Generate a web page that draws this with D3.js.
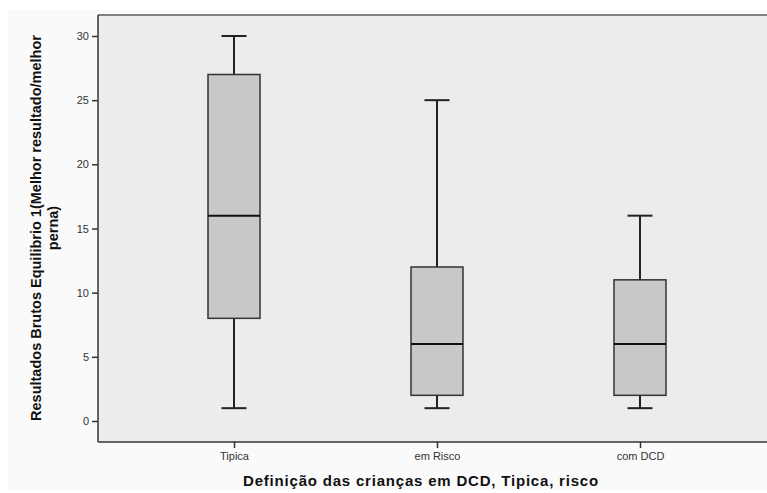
<!DOCTYPE html>
<html>
<head>
<meta charset="utf-8">
<script src="https://cdn.jsdelivr.net/npm/d3@7"></script>
<style>
  body { margin: 0; background: #fff; }
  svg { display: block; font-family: Arial, "Liberation Sans", sans-serif; }
</style>
</head>
<body>
<svg id="chart" width="767" height="493"></svg>
<script>
// data
const categories = ['Tipica', 'em Risco', 'com DCD'];
const mins    = [1, 1, 1];
const q1s     = [8, 2, 2];
const medians = [16, 6, 6];
const q3s     = [27, 12, 11];
const maxs    = [30, 25, 16];
const yTicks  = [0, 5, 10, 15, 20, 25, 30];

const data = categories.map((c, i) => ({
  cat: c, min: mins[i], q1: q1s[i], med: medians[i], q3: q3s[i], max: maxs[i]
}));

const svg = d3.select('#chart');
const plot = { left: 98, top: 15, right: 776, bottom: 442 };

// outer frame
svg.append('rect')
  .attr('x', 8).attr('y', 10)
  .attr('width', 767).attr('height', 480)
  .attr('fill', '#fafafa');

svg.append('rect')
  .attr('x', plot.left).attr('y', plot.top)
  .attr('width', plot.right - plot.left).attr('height', plot.bottom - plot.top)
  .attr('fill', '#ececec');

const x = d3.scalePoint()
  .domain(categories)
  .range([plot.left, plot.right])
  .padding(0.67);

const y = d3.scaleLinear()
  .domain([0, 30])
  .range([421, 36]);

// borders
svg.append('line')
  .attr('x1', plot.left).attr('x2', plot.right)
  .attr('y1', plot.top).attr('y2', plot.top)
  .attr('stroke', '#808080').attr('stroke-width', 2);

// y axis
const yAxis = svg.append('g')
  .attr('transform', `translate(${plot.left},0)`)
  .call(d3.axisLeft(y).tickValues(yTicks).tickSize(6).tickPadding(3));
yAxis.select('.domain').remove();
yAxis.append('line')
  .attr('x1', 0).attr('x2', 0)
  .attr('y1', plot.top).attr('y2', plot.bottom)
  .attr('stroke', '#333').attr('stroke-width', 1.5);

// x axis
const xAxis = svg.append('g')
  .attr('transform', `translate(0,${plot.bottom})`)
  .call(d3.axisBottom(x).tickSize(6).tickPadding(4));
xAxis.select('.domain').remove();
xAxis.append('line')
  .attr('x1', plot.left).attr('x2', plot.right)
  .attr('y1', 0).attr('y2', 0)
  .attr('stroke', '#333').attr('stroke-width', 1.5);

svg.selectAll('.tick line').attr('stroke', '#333').attr('stroke-width', 1.5);
svg.selectAll('.tick text')
  .attr('font-size', 11)
  .attr('font-family', 'Arial, "Liberation Sans", sans-serif')
  .attr('fill', '#333');

// boxes
const boxW = 52, capW = 25;
const g = svg.append('g').selectAll('g')
  .data(data)
  .enter()
  .append('g')
  .attr('transform', d => `translate(${x(d.cat)},0)`);

// whiskers
g.append('line')
  .attr('x1', 0).attr('x2', 0)
  .attr('y1', d => y(d.max)).attr('y2', d => y(d.q3))
  .attr('stroke', '#222').attr('stroke-width', 2);
g.append('line')
  .attr('x1', 0).attr('x2', 0)
  .attr('y1', d => y(d.q1)).attr('y2', d => y(d.min))
  .attr('stroke', '#222').attr('stroke-width', 2);
g.append('line')
  .attr('x1', -capW / 2).attr('x2', capW / 2)
  .attr('y1', d => y(d.max)).attr('y2', d => y(d.max))
  .attr('stroke', '#222').attr('stroke-width', 2);
g.append('line')
  .attr('x1', -capW / 2).attr('x2', capW / 2)
  .attr('y1', d => y(d.min)).attr('y2', d => y(d.min))
  .attr('stroke', '#222').attr('stroke-width', 2);

g.append('rect')
  .attr('x', -boxW / 2)
  .attr('y', d => y(d.q3))
  .attr('width', boxW)
  .attr('height', d => y(d.q1) - y(d.q3))
  .attr('fill', '#c8c8c8')
  .attr('stroke', '#333')
  .attr('stroke-width', 1.5);

g.append('line')
  .attr('x1', -boxW / 2).attr('x2', boxW / 2)
  .attr('y1', d => y(d.med)).attr('y2', d => y(d.med))
  .attr('stroke', '#111').attr('stroke-width', 2);

// axis titles
const yTitle = svg.append('text')
  .attr('transform', `translate(41,228) rotate(-90)`)
  .attr('text-anchor', 'middle')
  .attr('font-size', 14.5)
  .attr('font-weight', 'bold')
  .attr('fill', '#111');
yTitle.append('tspan').attr('x', 0).attr('dy', 0).text('Resultados Brutos Equilibrio 1(Melhor resultado/melhor');
yTitle.append('tspan').attr('x', 0).attr('dy', 17).text('perna)');

svg.append('text')
  .attr('x', 421).attr('y', 486)
  .attr('text-anchor', 'middle')
  .attr('font-size', 15)
  .attr('font-weight', 'bold')
  .attr('letter-spacing', 0.8)
  .attr('fill', '#111')
  .text('Definição das crianças em DCD, Tipica, risco');
</script>
</body>
</html>
